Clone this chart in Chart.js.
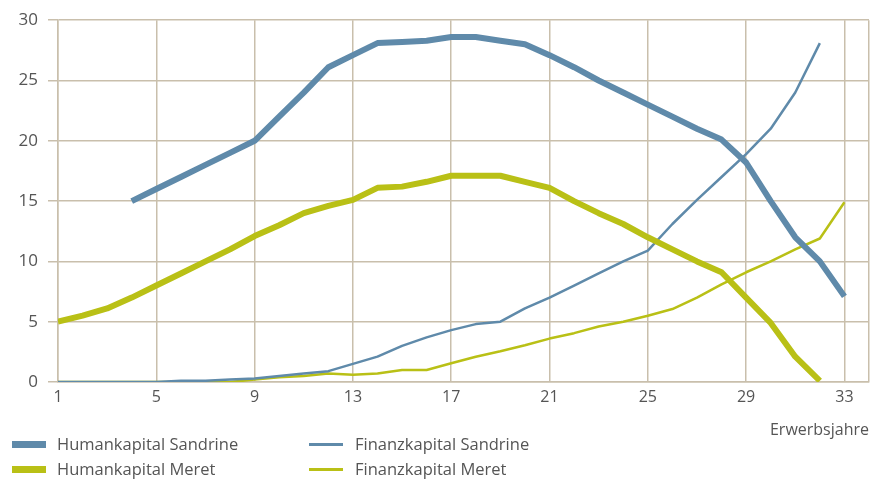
<!DOCTYPE html>
<html>
<head>
<meta charset="utf-8">
<script src="https://cdn.jsdelivr.net/npm/chart.js@4.4.1/dist/chart.umd.min.js"></script>
<style>
    body { margin: 0; background: #fff; font-family: "Open Sans", sans-serif; }
    #wrap { position: relative; width: 879px; height: 481px; }
    #legend { position: absolute; left: 0; top: 432px; width: 600px; color: #555; font-size: 16.5px; }
    .item { position: absolute; white-space: nowrap; }
    .sw { position: absolute; left: 0; }
    .lbl { position: absolute; top: 0; }
</style>
</head>
<body>
<div id="wrap">
    <canvas id="c" width="879" height="481"></canvas>
    <div id="legend"></div>
</div>
<script>
// Erwerbsjahre 1..33
const years = [1, 2, 3, 4, 5, 6, 7, 8, 9, 10, 11, 12, 13, 14, 15, 16, 17, 18, 19, 20, 21, 22, 23, 24, 25, 26, 27, 28, 29, 30, 31, 32, 33];

const humanSandrine = [null, null, null, 15, 16, 17, 18, 19, 20, 22, 24, 26.1, 27.1, 28.1, 28.2, 28.3, 28.6, 28.6, 28.3, 28, 27.1, 26.1, 25, 24, 23, 22, 21, 20.1, 18.2, 15, 12, 10, 7.1];
const humanMeret = [5, 5.5, 6.1, 7, 8, 9, 10, 11, 12.1, 13, 14, 14.6, 15.1, 16.1, 16.2, 16.6, 17.1, 17.1, 17.1, 16.6, 16.1, 15, 14, 13.1, 12, 11, 10, 9.1, 7, 4.9, 2.1, 0.1, null];
const finanzSandrine = [0, 0, 0, 0, 0, 0.1, 0.1, 0.2, 0.3, 0.5, 0.7, 0.9, 1.5, 2.1, 3, 3.7, 4.3, 4.8, 5, 6.1, 7, 8, 9, 10, 10.9, 13.1, 15.1, 17, 18.9, 21, 24, 28.1, null];
const finanzMeret = [0, 0, 0, 0, 0, 0, 0, 0, 0.2, 0.4, 0.5, 0.7, 0.6, 0.7, 1, 1, 1.55, 2.1, 2.55, 3.05, 3.6, 4.05, 4.6, 5, 5.5, 6.05, 7, 8.1, 9.1, 10, 11, 11.9, 14.9];

const xTicks = [1, 5, 9, 13, 17, 21, 25, 29, 33];
const yTicks = [0, 5, 10, 15, 20, 25, 30];

const BLUE = '#5f8aaa';
const GREEN = '#b9c016';
const GRID = '#c9bfac';
const TEXT = '#555555';

const series = [
    { label: 'Humankapital Sandrine', data: humanSandrine, color: BLUE, width: 6 },
    { label: 'Humankapital Meret', data: humanMeret, color: GREEN, width: 6 },
    { label: 'Finanzkapital Sandrine', data: finanzSandrine, color: BLUE, width: 2.5 },
    { label: 'Finanzkapital Meret', data: finanzMeret, color: GREEN, width: 2.5 }
];

const toPoints = (vals) => years.map((x, i) => ({ x, y: vals[i] }));

new Chart(document.getElementById('c'), {
    type: 'line',
    data: {
        datasets: series.map(s => ({
            label: s.label,
            data: toPoints(s.data),
            borderColor: s.color,
            borderWidth: s.width,
            pointRadius: 0,
            fill: false,
            tension: 0,
            spanGaps: false,
            borderJoinStyle: 'round'
        }))
    },
    options: {
        responsive: false,
        animation: false,
        layout: { padding: { left: 0, right: 10, top: 20, bottom: 41 } },
        plugins: { legend: { display: false }, tooltip: { enabled: false } },
        scales: {
            x: {
                type: 'linear',
                min: 1,
                max: 34,
                afterBuildTicks: (scale) => { scale.ticks = xTicks.concat([34]).map(v => ({ value: v })); },
                afterFit: (scale) => { scale.height = 58; },
                grid: { color: GRID, lineWidth: 1.5, drawTicks: false },
                border: { color: GRID, width: 1.5 },
                ticks: {
                    color: TEXT,
                    font: { family: 'Open Sans', size: 16 },
                    padding: 6,
                    maxRotation: 0,
                    autoSkip: false,
                    callback: (v) => (xTicks.includes(v) ? String(v) : '')
                },
                title: {
                    display: true,
                    text: 'Erwerbsjahre',
                    align: 'end',
                    color: TEXT,
                    font: { family: 'Open Sans', size: 16 },
                    padding: { top: 7, bottom: 0 }
                }
            },
            y: {
                min: 0,
                max: 30,
                afterBuildTicks: (scale) => { scale.ticks = yTicks.map(v => ({ value: v })); },
                afterFit: (scale) => { scale.width = 58; },
                grid: { color: GRID, lineWidth: 1.5, tickLength: 10, tickColor: GRID },
                border: { color: GRID, width: 1.5 },
                ticks: {
                    color: TEXT,
                    font: { family: 'Open Sans', size: 17 },
                    padding: 10
                }
            }
        }
    }
});

// legend (two columns)
const legend = document.getElementById('legend');
const cols = [12, 309];
const rows = [0, 25];
series.forEach((s, i) => {
    const col = i < 2 ? 0 : 1;
    const row = i % 2;
    const item = document.createElement('div');
    item.className = 'item';
    item.style.left = cols[col] + 'px';
    item.style.top = rows[row] + 'px';
    const sw = document.createElement('div');
    sw.className = 'sw';
    const h = s.width > 3 ? 7 : 3;
    sw.style.width = '34px';
    sw.style.height = h + 'px';
    sw.style.top = (12 - h / 2) + 'px';
    sw.style.background = s.color;
    const lbl = document.createElement('div');
    lbl.className = 'lbl';
    lbl.style.left = (col === 0 ? 45 : 46) + 'px';
    lbl.textContent = s.label;
    item.appendChild(sw);
    item.appendChild(lbl);
    legend.appendChild(item);
});
</script>
</body>
</html>
